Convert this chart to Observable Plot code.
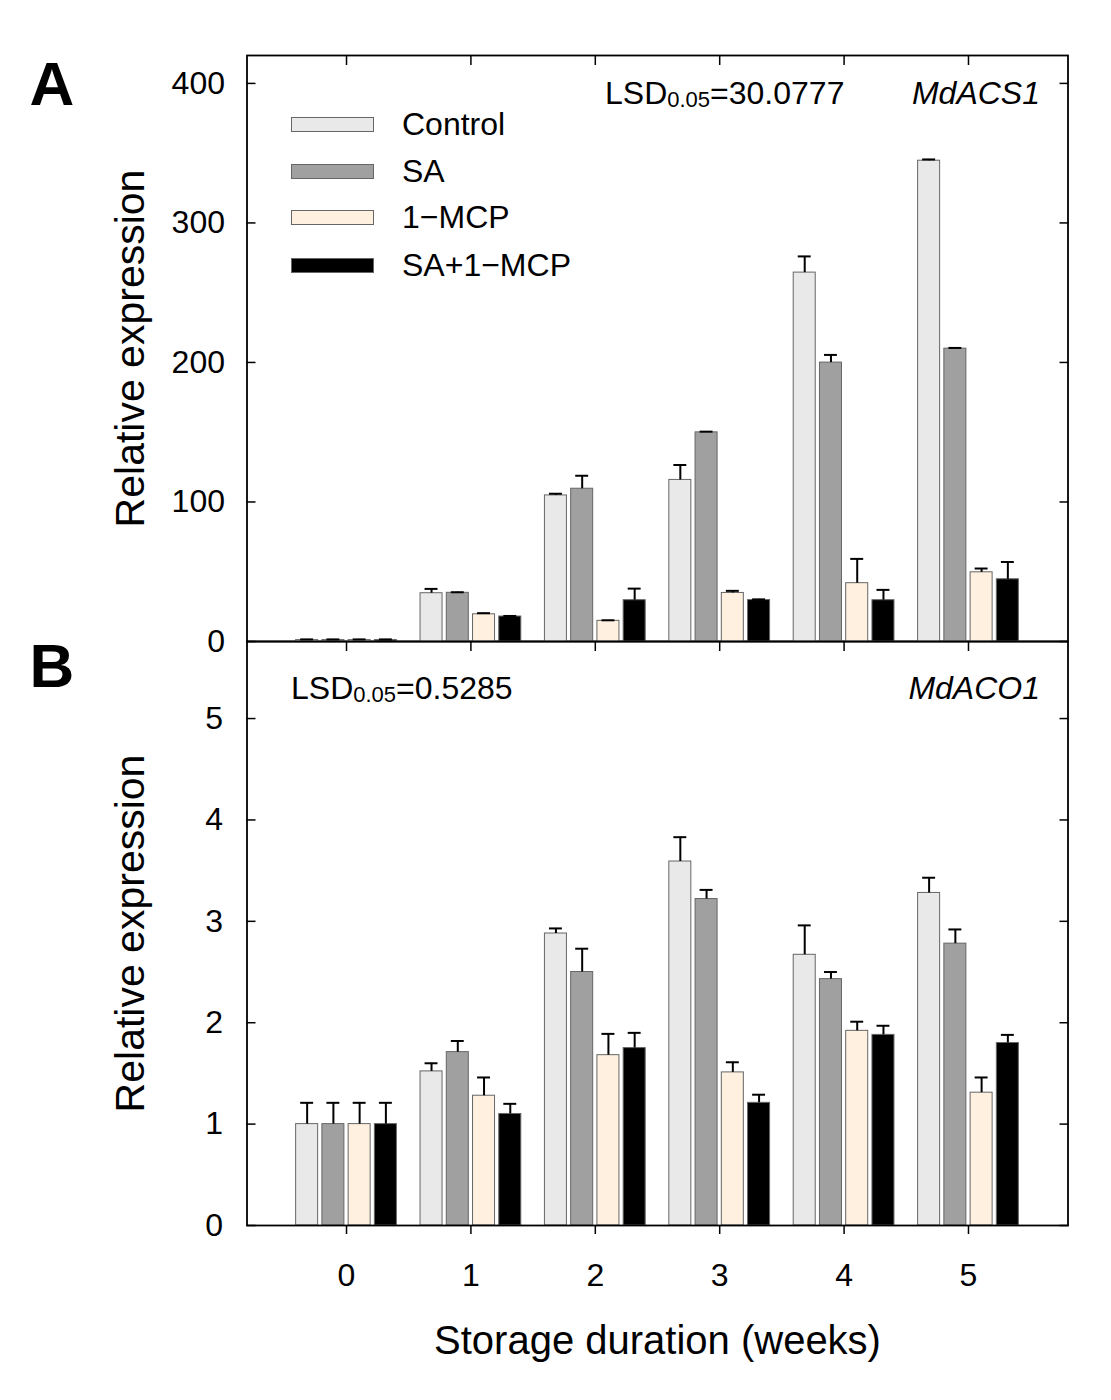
<!DOCTYPE html>
<html>
<head>
<meta charset="utf-8">
<script src="https://cdn.jsdelivr.net/npm/d3@7"></script>
<script src="https://cdn.jsdelivr.net/npm/@observablehq/plot@0.6"></script>
<style>
  body { margin: 0; background: white; }
  #wrap { position: relative; width: 1111px; height: 1400px; font-family: "Liberation Sans", Arial, sans-serif; color: black; }
  #wrap svg { position: absolute; left: 0; top: 0; }
  .ov { position: absolute; white-space: nowrap; line-height: 1; }
  .sw { position: absolute; box-sizing: border-box; border: 1px solid #666; }
  sub { font-size: 22px; vertical-align: -3px; }
</style>
</head>
<body>
<div id="wrap"></div>
<script>
const weeks = [0, 1, 2, 3, 4, 5];
const series = ["Control", "SA", "1−MCP", "SA+1−MCP"];
const colors = ["#e9e9e9", "#a0a0a0", "#fff0e0", "#000000"];

// Panel A: MdACS1
const acsValues = [
  [1, 34.6, 104.7, 115.8, 264.4, 344.6],
  [1, 34.9, 109.5, 149.9, 199.9, 209.9],
  [1, 19.5, 14.8, 34.8, 41.8, 49.6],
  [1, 17.9, 29.6, 29.7, 29.6, 44.6]
];
const acsErrors = [
  [0.5, 3.1, 1.2, 10.7, 11.6, 0.9],
  [0.5, 0.4, 9.3, 0.5, 5.5, 0.5],
  [0.5, 0.8, 0.4, 1.5, 17.4, 2.7],
  [0.5, 0.4, 8.3, 0.5, 7.4, 12.4]
];
// Panel B: MdACO1
const acoValues = [
  [1.0, 1.52, 2.88, 3.59, 2.67, 3.28],
  [1.0, 1.71, 2.50, 3.22, 2.43, 2.78],
  [1.0, 1.28, 1.68, 1.51, 1.92, 1.31],
  [1.0, 1.10, 1.75, 1.21, 1.88, 1.80]
];
const acoErrors = [
  [0.21, 0.08, 0.05, 0.24, 0.29, 0.15],
  [0.21, 0.11, 0.23, 0.09, 0.07, 0.14],
  [0.21, 0.18, 0.21, 0.10, 0.09, 0.15],
  [0.21, 0.10, 0.15, 0.08, 0.09, 0.08]
];
const acsTicks = [0, 100, 200, 300, 400];
const acoTicks = [0, 1, 2, 3, 4, 5];

const pitch = 0.211, bw = 0.177, cap = 0.052;
function table(vals, errs) {
  const rows = [];
  series.forEach((s, i) => weeks.forEach((w, j) => {
    rows.push({week: w, series: s, i, value: vals[i][j], err: errs[i][j], cx: w + (i - 1.5) * pitch});
  }));
  return rows;
}
const FONT = '"Liberation Sans", Arial, sans-serif';
const fmt = d3.format("d");

function panel({data, yDomain, ticks, marginTop, marginBottom, letter, letterDy, gene, geneDy, bottom, labelPad}) {
  const marks = [
    Plot.rect(data, {
      x1: d => d.cx - bw / 2, x2: d => d.cx + bw / 2, y1: 0, y2: "value",
      fill: d => colors[d.i], stroke: "#666", strokeWidth: 1
    }),
    Plot.ruleX(data, {x: "cx", y1: "value", y2: d => d.value + d.err, stroke: "black", strokeWidth: 2}),
    Plot.ruleY(data, {y: d => d.value + d.err, x1: d => d.cx - cap, x2: d => d.cx + cap, stroke: "black", strokeWidth: 2}),
    Plot.frame({stroke: "black", strokeWidth: 1.8}),
    Plot.axisY({anchor: "left", ticks, tickSize: 9, dx: 9, text: null, label: null, strokeWidth: 1.5}),
    Plot.axisY({anchor: "right", ticks, tickSize: 9, dx: -9, text: null, label: null, strokeWidth: 1.5}),
    Plot.axisY({anchor: "left", ticks, tickSize: 0, tickPadding: labelPad, fontSize: 32, label: null, tickFormat: fmt}),
    Plot.axisX({anchor: "top", ticks: weeks, tickSize: 9, dy: 9, text: null, label: null, strokeWidth: 1.5}),
    Plot.text(["Relative expression"], {frameAnchor: "left", dx: -116, rotate: -90, fontSize: 41, textAnchor: "middle", lineAnchor: "middle"}),
    Plot.text([letter], {frameAnchor: "top-left", dx: -195, dy: letterDy, fontSize: 62, fontWeight: "bold", textAnchor: "middle", lineAnchor: "middle"}),
    Plot.text([gene], {frameAnchor: "top-right", dx: -28, dy: geneDy, textAnchor: "end", lineAnchor: "middle", fontStyle: "italic", fontSize: 32})
  ];
  if (bottom) {
    marks.push(
      Plot.axisX({anchor: "bottom", ticks: weeks, tickSize: 9, text: null, label: null, strokeWidth: 1.5}),
      Plot.axisX({anchor: "bottom", ticks: weeks, tickSize: 0, tickPadding: 38, fontSize: 32, label: null, tickFormat: fmt}),
      Plot.text(["Storage duration (weeks)"], {frameAnchor: "bottom", dy: 116, fontSize: 40, textAnchor: "middle", lineAnchor: "middle"})
    );
  }
  return Plot.plot({
    width: 1111, height: 1400,
    marginLeft: 246.5, marginRight: 43.5, marginTop, marginBottom,
    x: {domain: [-0.8, 5.8], axis: null},
    y: {domain: yDomain, axis: null},
    style: {background: "transparent", fontFamily: FONT, color: "black"},
    marks
  });
}

const wrap = document.getElementById("wrap");
const plotB = panel({
  data: table(acoValues, acoErrors), yDomain: [0, 5.76], ticks: acoTicks,
  marginTop: 641, marginBottom: 175, letter: "B", letterDy: 26, gene: "MdACO1", geneDy: 47, bottom: true, labelPad: 24
});
const plotA = panel({
  data: table(acsValues, acsErrors), yDomain: [0, 420], ticks: acsTicks,
  marginTop: 55, marginBottom: 759, letter: "A", letterDy: 30, gene: "MdACS1", geneDy: 38, bottom: false, labelPad: 22
});
wrap.appendChild(plotB);
wrap.appendChild(plotA);

// Legend (panel A)
const legendY = [124, 171, 217, 265];
series.forEach((s, i) => {
  const sw = document.createElement("div");
  sw.className = "sw";
  Object.assign(sw.style, {left: "291px", top: (legendY[i] - 7) + "px", width: "83px", height: "15px", background: colors[i]});
  wrap.appendChild(sw);
  const t = document.createElement("div");
  t.className = "ov";
  Object.assign(t.style, {left: "402px", top: (legendY[i] - 16) + "px", fontSize: "32px"});
  t.textContent = s;
  wrap.appendChild(t);
});

// LSD annotations
const lsd = [
  {left: 605, cy: 93, value: "30.0777"},
  {left: 291, cy: 688, value: "0.5285"}
];
lsd.forEach(d => {
  const t = document.createElement("div");
  t.className = "ov";
  Object.assign(t.style, {left: d.left + "px", top: (d.cy - 16) + "px", fontSize: "32px"});
  t.innerHTML = "LSD<sub>0.05</sub>=" + d.value;
  wrap.appendChild(t);
});
</script>
</body>
</html>
